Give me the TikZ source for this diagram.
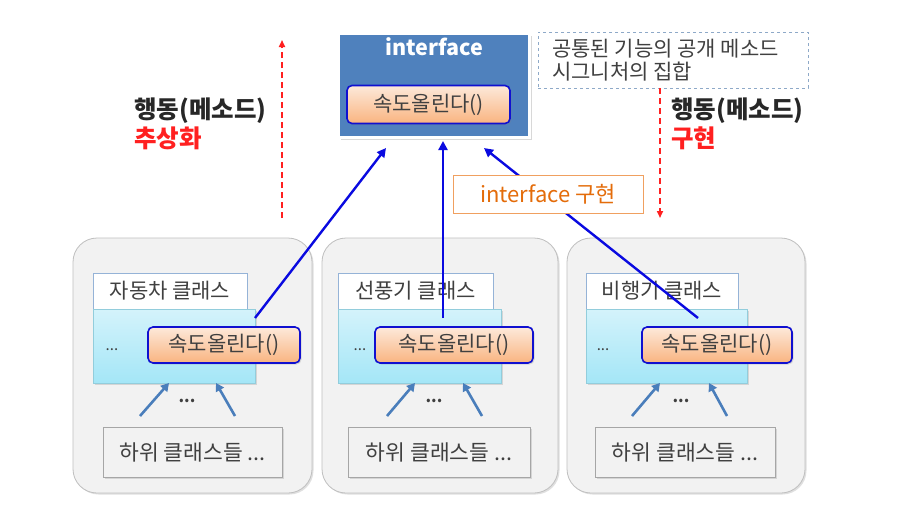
\documentclass[tikz,border=0pt]{standalone}
\usepackage{fontspec}
\setmainfont{Noto Sans CJK KR}
\usetikzlibrary{arrows.meta,shadows}
\definecolor{ifblue}{HTML}{4F81BD}
\definecolor{bigfill}{HTML}{F2F2F2}
\definecolor{bigdraw}{HTML}{BFBFBF}
\definecolor{lblborder}{HTML}{95B3D7}
\definecolor{cyantop}{HTML}{D4F3FB}
\definecolor{cyanbot}{HTML}{A4E6F7}
\definecolor{cyanborder}{HTML}{92CDDC}
\definecolor{orangetop}{HTML}{FDE9DA}
\definecolor{orangebot}{HTML}{F9B480}
\definecolor{methborder}{HTML}{1010D0}
\definecolor{linkblue}{HTML}{0A0AE0}
\definecolor{smallarrow}{HTML}{4A7EBB}
\definecolor{dashborder}{HTML}{8EA9C8}
\definecolor{textgray}{HTML}{404040}
\definecolor{implorange}{HTML}{E46C0A}
\definecolor{implborder}{HTML}{F0A060}
\definecolor{redarrow}{HTML}{FF2020}
\definecolor{subdraw}{HTML}{A6A6A6}
\tikzset{
  softshadow/.style={drop shadow={opacity=0.25,shadow xshift=1.5pt,shadow yshift=-1.5pt}},
  bigbox/.style={draw=bigdraw,fill=bigfill,line width=0.8pt,rounded corners=24pt,softshadow},
  lblbox/.style={draw=lblborder,fill=white,line width=0.6pt,inner sep=0pt,font=\fontsize{21}{24}\selectfont,text=textgray},
  cyanbox/.style={draw=cyanborder,line width=0.6pt,top color=cyantop,bottom color=cyanbot,inner sep=0pt,softshadow},
  methbox/.style={draw=methborder,line width=1.6pt,rounded corners=5pt,top color=orangetop,bottom color=orangebot,inner sep=0pt,font=\fontsize{21}{24}\selectfont,text=textgray,softshadow},
  subbox/.style={draw=subdraw,fill=bigfill,line width=0.7pt,inner sep=0pt,font=\fontsize{21.5}{24}\selectfont,text=textgray,softshadow},
  linkarrow/.style={draw=linkblue,line width=2.4pt,-{Triangle[length=9pt,width=9pt]}},
  smallarr/.style={draw=smallarrow,line width=2.6pt,-{Triangle[length=8pt,width=9pt]}},
  redarr/.style={draw=redarrow,line width=1.6pt,dash pattern=on 6pt off 4pt,-{Triangle[length=7pt,width=6pt]}},
  boldlbl/.style={font=\fontsize{24.5}{28}\selectfont\bfseries,anchor=west,inner sep=0pt},
  dots/.style={font=\fontsize{15}{17}\selectfont,text=textgray,inner sep=0pt},
  bdots/.style={font=\fontsize{16}{18}\selectfont\bfseries,text=textgray,inner sep=0pt}
}
\begin{document}
\begin{tikzpicture}[x=1pt,y=-1pt]
\useasboundingbox (0,0) rectangle (924,509);
\fill[white] (0,0) rectangle (924,509);

% interface box
\node[fill=ifblue,draw=white,line width=3pt,minimum width=191pt,minimum height=104pt,inner sep=0pt,
  drop shadow={opacity=0.3,shadow xshift=2pt,shadow yshift=-2pt}] (iface) at (434,85.5) {};
\node[font=\fontsize{21.5}{24}\selectfont\bfseries,text=white,inner sep=0pt] (ifacetitle) at (434,47) {interface};
\node[methbox,minimum width=163pt,minimum height=38pt] (im) at (428.5,104.5) {속도올린다()};

% dashed note box
\node[draw=dashborder,dashed,line width=0.8pt,minimum width=270pt,minimum height=56pt,inner sep=0pt] (note) at (673,60) {};
\node[anchor=west,inner sep=0pt,font=\fontsize{21}{24}\selectfont,text=textgray] (note1) at (552,48.5) {공통된 기능의 공개 메소드};
\node[anchor=west,inner sep=0pt,font=\fontsize{21}{24}\selectfont,text=textgray] (note2) at (552,71.5) {시그니처의 집합};

% red dashed arrows
\coordinate (la1) at (282,218);
\coordinate (la2) at (282,40);
\draw[redarr] (la1) -- (la2);
\coordinate (ra1) at (660,88);
\coordinate (ra2) at (660,218);
\draw[redarr] (ra1) -- (ra2);

% side labels
\node[boldlbl,text=textgray!60!black] (lt1) at (134,111) {행동(메소드)};
\node[boldlbl,text=redarrow] (lt2) at (134,138) {추상화};
\node[boldlbl,text=textgray!60!black] (rt1) at (671,111) {행동(메소드)};
\node[boldlbl,text=redarrow] (rt2) at (671,138) {구현};

% class groups
\node[bigbox,minimum width=239pt,minimum height=255pt] (big1) at (192.5,365.5) {};
\node[bigbox,minimum width=236pt,minimum height=255pt] (big2) at (440,365.5) {};
\node[bigbox,minimum width=238pt,minimum height=255pt] (big3) at (686,365.5) {};

\node[lblbox,minimum width=154pt,minimum height=36pt] (lb1) at (170,291) {자동차 클래스};
\node[lblbox,minimum width=155pt,minimum height=36pt] (lb2) at (415.5,291) {선풍기 클래스};
\node[lblbox,minimum width=152pt,minimum height=36pt] (lb3) at (662,291) {비행기 클래스};

\node[cyanbox,minimum width=162pt,minimum height=74pt] (cy1) at (174,346) {};
\node[cyanbox,minimum width=163pt,minimum height=74pt] (cy2) at (419.5,346) {};
\node[cyanbox,minimum width=161pt,minimum height=74pt] (cy3) at (666.5,346) {};

\node[dots] (d1) at (112,350) {...};
\node[dots] (d2) at (360,350) {...};
\node[dots] (d3) at (603,350) {...};

\node[methbox,minimum width=152pt,minimum height=36pt] (m1) at (224,345) {속도올린다()};
\node[methbox,minimum width=158pt,minimum height=36pt] (m2) at (454,345) {속도올린다()};
\node[methbox,minimum width=150pt,minimum height=36pt] (m3) at (717,345) {속도올린다()};

\node[subbox,minimum width=179pt,minimum height=50pt] (s1) at (192.5,452) {하위 클래스들 ...};
\node[subbox,minimum width=182pt,minimum height=50pt] (s2) at (439,452) {하위 클래스들 ...};
\node[subbox,minimum width=180pt,minimum height=50pt] (s3) at (685,452) {하위 클래스들 ...};

\node[bdots] (bd1) at (187,401) {...};
\node[bdots] (bd2) at (434,401) {...};
\node[bdots] (bd3) at (681,401) {...};

% small inheritance arrows
\coordinate (a1s) at (140,416); \coordinate (a1e) at (169,383);
\coordinate (b1s) at (235,416); \coordinate (b1e) at (216,383);
\coordinate (a2s) at (387,416); \coordinate (a2e) at (415,383);
\coordinate (b2s) at (482,416); \coordinate (b2e) at (463,383);
\coordinate (a3s) at (632,416); \coordinate (a3e) at (660,383);
\coordinate (b3s) at (727,416); \coordinate (b3e) at (709,383);
\draw[smallarr] (a1s) -- (a1e);
\draw[smallarr] (b1s) -- (b1e);
\draw[smallarr] (a2s) -- (a2e);
\draw[smallarr] (b2s) -- (b2e);
\draw[smallarr] (a3s) -- (a3e);
\draw[smallarr] (b3s) -- (b3e);

% implementation links
\coordinate (p1) at (255,318); \coordinate (q1) at (386,148);
\coordinate (p2) at (443,318); \coordinate (q2) at (443,141);
\coordinate (p3) at (698,318); \coordinate (q3) at (484,148);
\draw[linkarrow] (p1) -- (q1);
\draw[linkarrow] (p2) -- (q2);
\draw[linkarrow] (p3) -- (q3);

\node[draw=implborder,fill=white,line width=0.9pt,minimum width=190pt,minimum height=38pt,inner sep=0pt,
  font=\fontsize{22}{25}\selectfont,text=implorange] (impl) at (548,194) {interface 구현};
\end{tikzpicture}
\end{document}
